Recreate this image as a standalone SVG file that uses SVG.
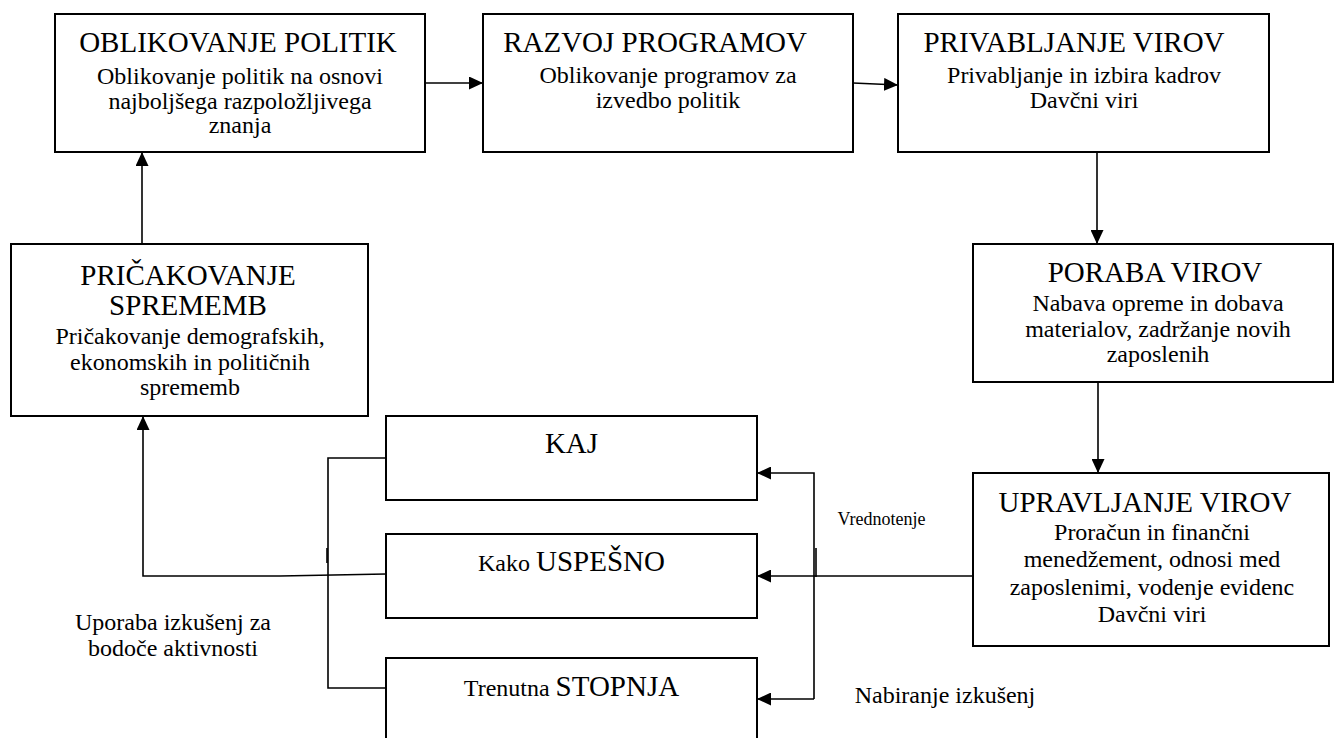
<svg xmlns="http://www.w3.org/2000/svg" width="1335" height="738" viewBox="0 0 1335 738">
<style>
.box{fill:#fff;stroke:#000;stroke-width:2}
.ln{fill:none;stroke:#000;stroke-width:1.6}
.t{font-family:"Liberation Serif","Times New Roman",serif;fill:#000;text-anchor:middle}
.h{font-size:29px}
.b{font-size:24px}
.s{font-size:18px}
</style>
<defs>
<marker id="ah" markerUnits="userSpaceOnUse" markerWidth="14" markerHeight="13" refX="14" refY="6.5" orient="auto"><path d="M0,0L14,6.5L0,13z" fill="#000"/></marker>
</defs>
<rect width="1335" height="738" fill="#fff"/>
<g id="connectors">
<path class="ln" d="M425,83H483" marker-end="url(#ah)"/>
<path class="ln" d="M853,83L898,85" marker-end="url(#ah)"/>
<path class="ln" d="M1097,152V244" marker-end="url(#ah)"/>
<path class="ln" d="M1098,382V473" marker-end="url(#ah)"/>
<path class="ln" d="M142,244V152" marker-end="url(#ah)"/>
<path class="ln" d="M386,574L280,576H143V416" marker-end="url(#ah)"/>
<path class="ln" d="M386,458H328V688H386"/>
<path class="ln" d="M814,699V473H757" marker-end="url(#ah)"/>
<path class="ln" d="M814,699H757" marker-end="url(#ah)"/>
<path class="ln" d="M973,576H757" marker-end="url(#ah)"/>
<path class="ln" d="M327,548V563"/>
<path class="ln" d="M816,548V577"/>
</g>
<g id="n-oblikovanje">
<rect class="box" x="55" y="14" width="370" height="138"/>
<text class="t h" x="238" y="52">OBLIKOVANJE POLITIK</text>
<text class="t b" x="240" y="84">Oblikovanje politik na osnovi</text>
<text class="t b" x="240" y="109">najboljšega razpoložljivega</text>
<text class="t b" x="240" y="133">znanja</text>
</g>
<g id="n-razvoj">
<rect class="box" x="483" y="14" width="370" height="138"/>
<text class="t h" x="655" y="52">RAZVOJ PROGRAMOV</text>
<text class="t b" x="668" y="83">Oblikovanje programov za</text>
<text class="t b" x="668" y="108">izvedbo politik</text>
</g>
<g id="n-privabljanje">
<rect class="box" x="898" y="14" width="371" height="138"/>
<text class="t h" x="1074" y="52">PRIVABLJANJE VIROV</text>
<text class="t b" x="1084" y="83">Privabljanje in izbira kadrov</text>
<text class="t b" x="1084" y="108">Davčni viri</text>
</g>
<g id="n-pricakovanje">
<rect class="box" x="11" y="244" width="357" height="172"/>
<text class="t h" x="188" y="285">PRIČAKOVANJE</text>
<text class="t h" x="188" y="315">SPREMEMB</text>
<text class="t b" x="190" y="344">Pričakovanje demografskih,</text>
<text class="t b" x="190" y="370">ekonomskih in političnih</text>
<text class="t b" x="190" y="395">sprememb</text>
</g>
<g id="n-poraba">
<rect class="box" x="973" y="244" width="360" height="138"/>
<text class="t h" x="1155" y="282">PORABA VIROV</text>
<text class="t b" x="1158" y="311">Nabava opreme in dobava</text>
<text class="t b" x="1158" y="337">materialov, zadržanje novih</text>
<text class="t b" x="1158" y="362">zaposlenih</text>
</g>
<g id="n-upravljanje">
<rect class="box" x="973" y="473" width="356" height="173"/>
<text class="t h" x="1145" y="512">UPRAVLJANJE VIROV</text>
<text class="t b" x="1152" y="540">Proračun in finančni</text>
<text class="t b" x="1152" y="567">menedžement, odnosi med</text>
<text class="t b" x="1152" y="595">zaposlenimi, vodenje evidenc</text>
<text class="t b" x="1152" y="622">Davčni viri</text>
</g>
<g id="n-kaj">
<rect class="box" x="386" y="416" width="371" height="84"/>
<text class="t h" x="571.5" y="453">KAJ</text>
</g>
<g id="n-uspesno">
<rect class="box" x="386" y="534" width="371" height="84"/>
<text class="t" x="571.5" y="571"><tspan class="b">Kako </tspan><tspan class="h">USPEŠNO</tspan></text>
</g>
<g id="n-stopnja">
<rect class="box" x="386" y="658" width="371" height="92"/>
<text class="t" x="571.5" y="696"><tspan class="b">Trenutna </tspan><tspan class="h">STOPNJA</tspan></text>
</g>
<g id="labels">
<text class="t b" x="173" y="630">Uporaba izkušenj za</text>
<text class="t b" x="173" y="656">bodoče aktivnosti</text>
<text class="t s" x="881.5" y="525">Vrednotenje</text>
<text class="t b" x="945" y="703">Nabiranje izkušenj</text>
</g>
</svg>
